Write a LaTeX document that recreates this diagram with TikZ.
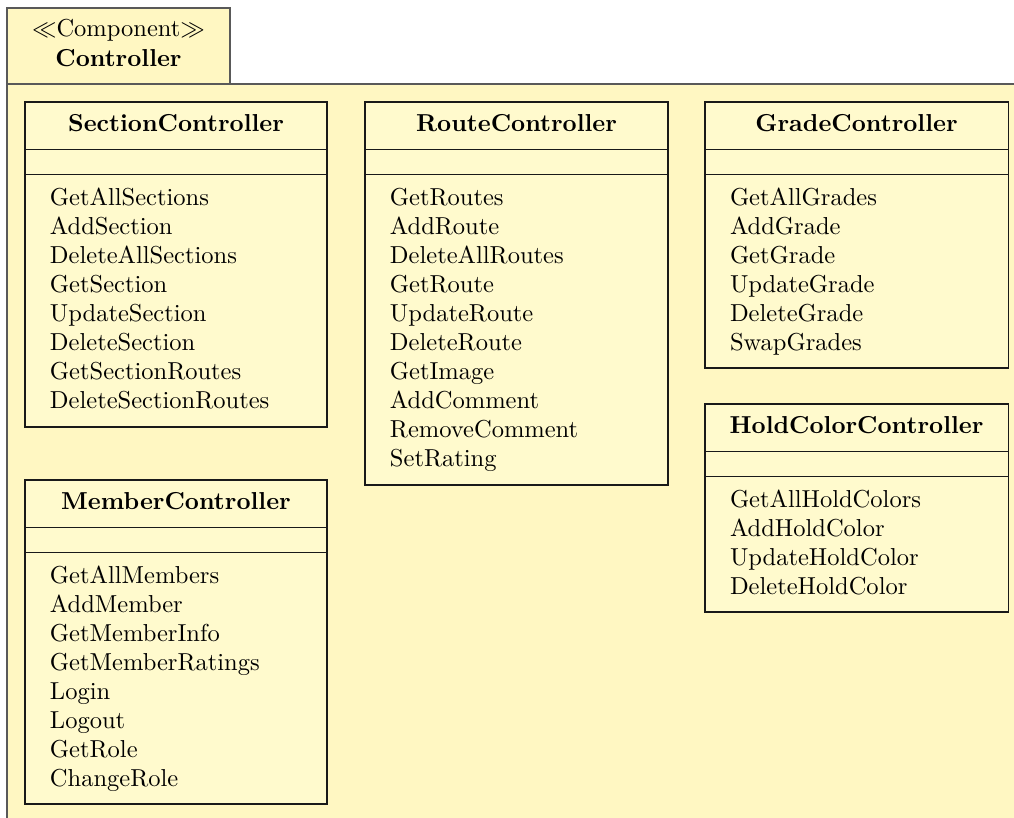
\documentclass[tikz,border=0pt]{standalone}
\definecolor{pkgfill}{RGB}{255,247,194}
\definecolor{classfill}{RGB}{255,250,205}
\newcommand\umlclassbox[7]{% name, left, top, right, bottom, title, operations
  \draw[classbox] (#2,#3) rectangle (#4,#5);
  \draw[classbox] (#2,#3+47.5) -- (#4,#3+47.5);
  \draw[classbox] (#2,#3+72.5) -- (#4,#3+72.5);
  \node[classtitle] (#1) at ({(#2+#4)/2},#3+29) {#6};
  \foreach \op [count=\i] in {#7}
    \node[operation] (#1-op\i) at (#2+24.5,#3+74+29*\i) {\op};
}
\begin{document}
\begin{tikzpicture}[x=0.408pt,y=-0.408pt,
  pkgline/.style={draw=black!65,line width=0.55pt,fill=pkgfill},
  classbox/.style={draw=black!90,line width=0.42pt,fill=classfill},
  classtitle/.style={anchor=base,font=\bfseries,inner sep=0pt},
  operation/.style={anchor=base west,inner sep=0pt}]
\useasboundingbox (0,0) rectangle (1014,818);
\clip (0,0) rectangle (1014,818);

% package frame with its name tab
\draw[pkgline] (7,84) rectangle (1040,840);
\draw[pkgline] (7,8) rectangle (230,84);
\node[anchor=base,inner sep=0pt] (stereo) at (118.5,37) {$\ll$Component$\gg$};
\node[anchor=base,inner sep=0pt,font=\bfseries] (pkgname) at (118.5,66.5) {Controller};

% controllers
\umlclassbox{section}{25}{102}{327}{427}{SectionController}
  {GetAllSections,AddSection,DeleteAllSections,GetSection,UpdateSection,DeleteSection,GetSectionRoutes,DeleteSectionRoutes}
\umlclassbox{route}{365}{102}{668}{485}{RouteController}
  {GetRoutes,AddRoute,DeleteAllRoutes,GetRoute,UpdateRoute,DeleteRoute,GetImage,AddComment,RemoveComment,SetRating}
\umlclassbox{grade}{705}{102}{1008}{368}{GradeController}
  {GetAllGrades,AddGrade,GetGrade,UpdateGrade,DeleteGrade,SwapGrades}
\umlclassbox{holdcolor}{705}{404}{1008}{612}{HoldColorController}
  {GetAllHoldColors,AddHoldColor,UpdateHoldColor,DeleteHoldColor}
\umlclassbox{member}{25}{480}{327}{804}{MemberController}
  {GetAllMembers,AddMember,GetMemberInfo,GetMemberRatings,Login,Logout,GetRole,ChangeRole}
\end{tikzpicture}
\end{document}
